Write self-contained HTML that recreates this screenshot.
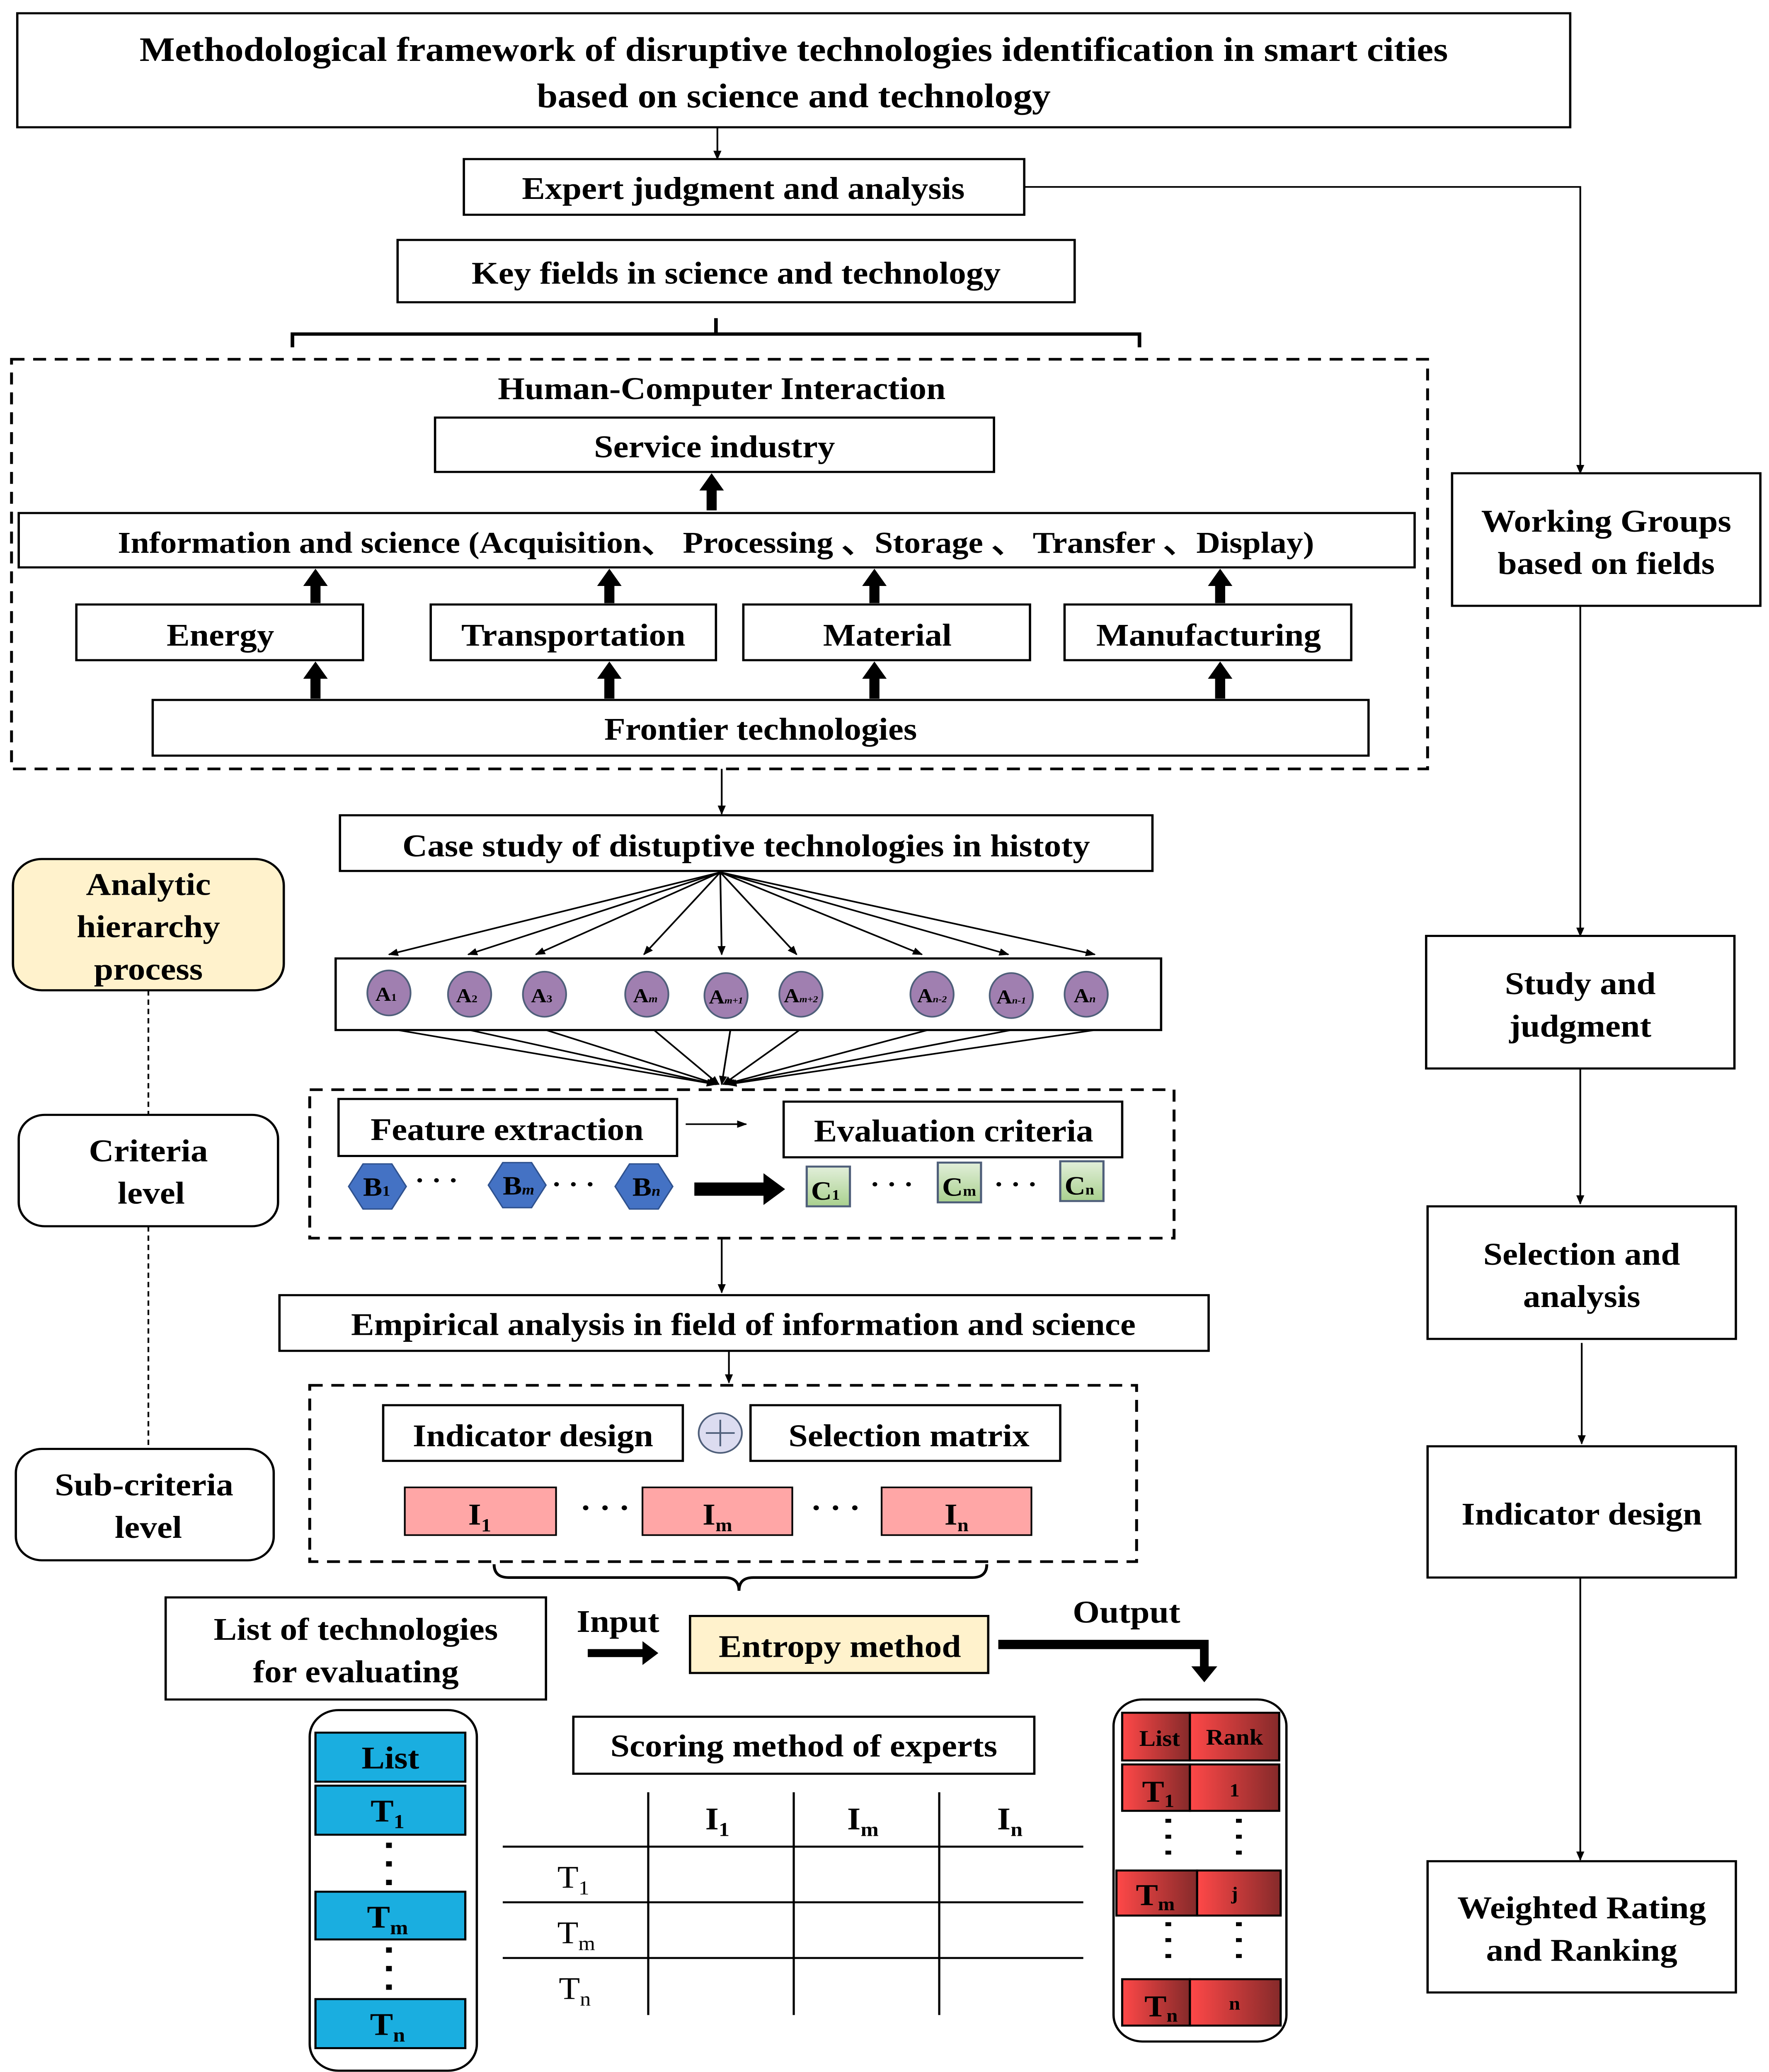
<!DOCTYPE html>
<html><head><meta charset="utf-8"><style>html,body{margin:0;padding:0;background:#fff;width:100%;height:100%;overflow:hidden}svg{display:block;width:100vw;height:100vh}</style></head>
<body>
<svg xmlns="http://www.w3.org/2000/svg" viewBox="0 0 1228 1563" preserveAspectRatio="none" font-family="Liberation Serif, serif" font-weight="bold">
<defs>
<marker id="ah" viewBox="0 0 10 10" refX="9" refY="5" markerWidth="7" markerHeight="7" orient="auto" markerUnits="userSpaceOnUse"><path d="M0,1 L10,5 L0,9 z" fill="#000"/></marker>
<linearGradient id="gc" x1="0" y1="0" x2="0" y2="1"><stop offset="0" stop-color="#e2efda"/><stop offset="1" stop-color="#a9d08e"/></linearGradient>
<linearGradient id="gr" x1="0" y1="0" x2="1" y2="0"><stop offset="0" stop-color="#ff4848"/><stop offset="1" stop-color="#852a2a"/></linearGradient>
</defs>
<rect width="1228" height="1563" fill="#fff"/>
<g fill="none" stroke="#000" stroke-width="1.6">
<rect x="12" y="10" width="1078" height="86"/>
<rect x="322" y="120" width="389" height="42"/>
<rect x="276" y="181" width="470" height="47"/>
<rect x="8" y="271" width="983" height="309" stroke-dasharray="9,6" stroke-width="2"/>
<rect x="302" y="315" width="388" height="41"/>
<rect x="13" y="387" width="969" height="41"/>
<rect x="53" y="456" width="199" height="42"/>
<rect x="299" y="456" width="198" height="42"/>
<rect x="516" y="456" width="199" height="42"/>
<rect x="739" y="456" width="199" height="42"/>
<rect x="106" y="528" width="844" height="42"/>
<rect x="236" y="615" width="564" height="42"/>
<rect x="233" y="723" width="573" height="54"/>
<rect x="215" y="822" width="600" height="112" stroke-dasharray="9,6" stroke-width="2"/>
<rect x="235" y="829" width="235" height="43"/>
<rect x="544" y="831" width="235" height="42"/>
<rect x="194" y="977" width="645" height="42"/>
<rect x="215" y="1045" width="574" height="133" stroke-dasharray="9,6" stroke-width="2"/>
<rect x="266" y="1060" width="208" height="42"/>
<rect x="521" y="1060" width="215" height="42"/>
<rect x="115" y="1205" width="264" height="77"/>
<rect x="398" y="1295" width="320" height="43"/>
<rect x="215" y="1290" width="116" height="272" rx="20"/>
<rect x="773" y="1282" width="120" height="258" rx="20"/>
<rect x="1008" y="357" width="214" height="100"/>
<rect x="990" y="706" width="214" height="100"/>
<rect x="991" y="910" width="214" height="100"/>
<rect x="991" y="1091" width="214" height="99"/>
<rect x="991" y="1404" width="214" height="99"/>
<rect x="13" y="841" width="180" height="84" rx="18"/>
<rect x="11" y="1093" width="179" height="84" rx="18"/>
</g>
<rect x="9" y="648" width="188" height="99" rx="20" fill="#fff2cc" stroke="#000" stroke-width="1.6"/>
<rect x="479" y="1219" width="207" height="43" fill="#fff2cc" stroke="#000" stroke-width="1.6"/>
<g fill="none" stroke="#000" stroke-width="1.2">
<line x1="498" y1="96" x2="498" y2="120" marker-end="url(#ah)"/>
<polyline points="711,141 1097,141 1097,357" marker-end="url(#ah)"/>
<line x1="1097" y1="457" x2="1097" y2="706" marker-end="url(#ah)"/>
<line x1="1097" y1="806" x2="1097" y2="908" marker-end="url(#ah)"/>
<line x1="1098" y1="1013" x2="1098" y2="1089" marker-end="url(#ah)"/>
<line x1="1097" y1="1190" x2="1097" y2="1403" marker-end="url(#ah)"/>
<line x1="501" y1="580" x2="501" y2="614" marker-end="url(#ah)"/>
<line x1="501" y1="934" x2="501" y2="975" marker-end="url(#ah)"/>
<line x1="506" y1="1019" x2="506" y2="1043" marker-end="url(#ah)"/>
<line x1="476" y1="848" x2="518" y2="848" marker-end="url(#ah)"/>
<line x1="500" y1="658" x2="270" y2="720" marker-end="url(#ah)"/>
<line x1="500" y1="658" x2="325" y2="720" marker-end="url(#ah)"/>
<line x1="500" y1="658" x2="372" y2="720" marker-end="url(#ah)"/>
<line x1="500" y1="658" x2="447" y2="720" marker-end="url(#ah)"/>
<line x1="500" y1="658" x2="501" y2="720" marker-end="url(#ah)"/>
<line x1="500" y1="658" x2="553" y2="720" marker-end="url(#ah)"/>
<line x1="500" y1="658" x2="640" y2="720" marker-end="url(#ah)"/>
<line x1="500" y1="658" x2="700" y2="720" marker-end="url(#ah)"/>
<line x1="500" y1="658" x2="760" y2="720" marker-end="url(#ah)"/>
<line x1="276" y1="777" x2="497" y2="818" marker-end="url(#ah)"/>
<line x1="326" y1="777" x2="497" y2="818" marker-end="url(#ah)"/>
<line x1="379" y1="777" x2="498" y2="818" marker-end="url(#ah)"/>
<line x1="454" y1="777" x2="499" y2="818" marker-end="url(#ah)"/>
<line x1="507" y1="777" x2="501" y2="818" marker-end="url(#ah)"/>
<line x1="555" y1="777" x2="502" y2="818" marker-end="url(#ah)"/>
<line x1="644" y1="777" x2="503" y2="818" marker-end="url(#ah)"/>
<line x1="702" y1="777" x2="504" y2="818" marker-end="url(#ah)"/>
<line x1="760" y1="777" x2="505" y2="818" marker-end="url(#ah)"/>
<line x1="103" y1="747" x2="103" y2="841" stroke-dasharray="4,3"/>
<line x1="103" y1="925" x2="103" y2="1093" stroke-dasharray="4,3"/>
</g>
<path d="M203,262 L203,252 L497,252 L497,240 M497,252 L791,252 L791,262" fill="none" stroke="#000" stroke-width="2.5"/>
<path d="M343,1180 Q343,1190 353,1190 L503,1190 Q513,1190 513,1200 Q513,1190 523,1190 L675,1190 Q685,1190 685,1180" fill="none" stroke="#000" stroke-width="2"/>
<g fill="#000">
<path d="M490.5,385 h7 v-15 h5 l-8.5,-13 l-8.5,13 h5 z"/>
<path d="M215.5,455 h7 v-13 h5 l-8.5,-13 l-8.5,13 h5 z"/>
<path d="M419.5,455 h7 v-13 h5 l-8.5,-13 l-8.5,13 h5 z"/>
<path d="M603.5,455 h7 v-13 h5 l-8.5,-13 l-8.5,13 h5 z"/>
<path d="M843.5,455 h7 v-13 h5 l-8.5,-13 l-8.5,13 h5 z"/>
<path d="M215.5,527 h7 v-15 h5 l-8.5,-13 l-8.5,13 h5 z"/>
<path d="M419.5,527 h7 v-15 h5 l-8.5,-13 l-8.5,13 h5 z"/>
<path d="M603.5,527 h7 v-15 h5 l-8.5,-13 l-8.5,13 h5 z"/>
<path d="M843.5,527 h7 v-15 h5 l-8.5,-13 l-8.5,13 h5 z"/>
<path d="M482,892 h48 v-7 l15,12 l-15,12 v-7 h-48 z"/>
<path d="M408,1244 h38 v-6 l11,9 l-11,9 v-6 h-38 z"/>
<path d="M693,1237 h146 v20 h6 l-9,12 l-9,-12 h6 v-13 h-140 z"/>
</g>
<g fill="#a07fb0" stroke="#4f5f7a" stroke-width="1.2">
<ellipse cx="270" cy="749" rx="15" ry="17"/><ellipse cx="326" cy="750" rx="15" ry="17"/><ellipse cx="378" cy="750" rx="15" ry="17"/>
<ellipse cx="449" cy="750" rx="15" ry="17"/><ellipse cx="504" cy="751" rx="15" ry="17"/><ellipse cx="556" cy="750" rx="15" ry="17"/>
<ellipse cx="647" cy="750" rx="15" ry="17"/><ellipse cx="702" cy="751" rx="15" ry="17"/><ellipse cx="754" cy="750" rx="15" ry="17"/>
</g>
<g font-size="15" text-anchor="middle" fill="#000">
<text x="268" y="755">A<tspan font-size="8">1</tspan></text>
<text x="324" y="756">A<tspan font-size="8">2</tspan></text>
<text x="376" y="756">A<tspan font-size="8">3</tspan></text>
<text x="448" y="756">A<tspan font-size="8" font-style="italic">m</tspan></text>
<text x="504" y="757">A<tspan font-size="7" font-style="italic">m+1</tspan></text>
<text x="556" y="756">A<tspan font-size="7" font-style="italic">m+2</tspan></text>
<text x="647" y="756">A<tspan font-size="7" font-style="italic">n-2</tspan></text>
<text x="702" y="757">A<tspan font-size="7" font-style="italic">n-1</tspan></text>
<text x="753" y="756">A<tspan font-size="8" font-style="italic">n</tspan></text>
</g>
<g fill="#4472c4" stroke="#2f528f" stroke-width="1">
<path d="M252,878 h20 l10,17 l-10,17 h-20 l-10,-17 z"/>
<path d="M349,877 h20 l10,17 l-10,17 h-20 l-10,-17 z"/>
<path d="M437,878 h20 l10,17 l-10,17 h-20 l-10,-17 z"/>
</g>
<g font-size="20" fill="#000">
<text x="252" y="902">B<tspan font-size="11">1</tspan></text>
<text x="349" y="901">B<tspan font-size="11" font-style="italic">m</tspan></text>
<text x="439" y="902">B<tspan font-size="11" font-style="italic">n</tspan></text>
<text x="288" y="897">· · ·</text>
<text x="383" y="900">· · ·</text>
<text x="604" y="900">· · ·</text>
<text x="690" y="900">· · ·</text>
</g>
<g fill="url(#gc)" stroke="#4f5f7a" stroke-width="1.5">
<rect x="560" y="880" width="30" height="30"/><rect x="651" y="877" width="30" height="30"/><rect x="736" y="876" width="30" height="30"/>
</g>
<g font-size="20" fill="#000">
<text x="563" y="905">C<tspan font-size="11">1</tspan></text>
<text x="654" y="902">C<tspan font-size="11">m</tspan></text>
<text x="739" y="901">C<tspan font-size="11">n</tspan></text>
</g>
<circle cx="500" cy="1081" r="15" fill="#dcdcf0" stroke="#4f5f7a" stroke-width="1.2"/>
<path d="M490,1081 h20 M500,1071 v20" stroke="#4f5f7a" stroke-width="1.2"/>
<g fill="#ffa6a6" stroke="#000" stroke-width="1.2">
<rect x="281" y="1122" width="105" height="36"/><rect x="446" y="1122" width="104" height="36"/><rect x="612" y="1122" width="104" height="36"/>
</g>
<g font-size="23" fill="#000" text-anchor="middle">
<text x="333" y="1150">I<tspan font-size="14" dy="5">1</tspan></text>
<text x="498" y="1150">I<tspan font-size="14" dy="5">m</tspan></text>
<text x="664" y="1150">I<tspan font-size="14" dy="5">n</tspan></text>
<text x="420" y="1145">· · ·</text>
<text x="580" y="1145">· · ·</text>
</g>
<g fill="#1aaee0" stroke="#000" stroke-width="1.5">
<rect x="219" y="1307" width="104" height="37"/><rect x="219" y="1347" width="104" height="37"/>
<rect x="219" y="1427" width="104" height="36"/><rect x="219" y="1508" width="104" height="37"/>
</g>
<g font-size="24" fill="#000" text-anchor="middle">
<text x="271" y="1334">List</text>
<text x="269" y="1374">T<tspan font-size="15" dy="5">1</tspan></text>
<text x="269" y="1454">T<tspan font-size="15" dy="5">m</tspan></text>
<text x="269" y="1535">T<tspan font-size="15" dy="5">n</tspan></text>
</g>
<g fill="#000"><rect x="268" y="1390" width="4" height="4"/><rect x="268" y="1404" width="4" height="4"/><rect x="268" y="1418" width="4" height="4"/>
<rect x="268" y="1469" width="4" height="4"/><rect x="268" y="1483" width="4" height="4"/><rect x="268" y="1497" width="4" height="4"/></g>
<g stroke="#000" stroke-width="1.5">
<line x1="349" y1="1393" x2="752" y2="1393"/><line x1="349" y1="1435" x2="752" y2="1435"/><line x1="349" y1="1477" x2="752" y2="1477"/>
<line x1="450" y1="1352" x2="450" y2="1520"/><line x1="551" y1="1352" x2="551" y2="1520"/><line x1="652" y1="1352" x2="652" y2="1520"/>
</g>
<g font-size="24" fill="#000" text-anchor="middle">
<text x="498" y="1380">I<tspan font-size="15" dy="5">1</tspan></text>
<text x="599" y="1380">I<tspan font-size="15" dy="5">m</tspan></text>
<text x="701" y="1380">I<tspan font-size="15" dy="5">n</tspan></text>
</g>
<g font-size="24" font-weight="normal" fill="#000" text-anchor="middle">
<text x="398" y="1424">T<tspan font-size="15" dy="5">1</tspan></text>
<text x="400" y="1466">T<tspan font-size="15" dy="5">m</tspan></text>
<text x="399" y="1508">T<tspan font-size="15" dy="5">n</tspan></text>
</g>
<g fill="url(#gr)" stroke="#000" stroke-width="1.5">
<rect x="779" y="1292" width="47" height="36"/><rect x="826" y="1292" width="62" height="36"/>
<rect x="779" y="1331" width="47" height="35"/><rect x="826" y="1331" width="62" height="35"/>
<rect x="775" y="1411" width="56" height="34"/><rect x="831" y="1411" width="58" height="34"/>
<rect x="779" y="1493" width="47" height="35"/><rect x="826" y="1493" width="63" height="35"/>
</g>
<g fill="#000" text-anchor="middle">
<text x="805" y="1317" font-size="17">List</text>
<text x="857" y="1316" font-size="17">Rank</text>
<text x="804" y="1359" font-size="23">T<tspan font-size="14" dy="4">1</tspan></text>
<text x="857" y="1355" font-size="14">1</text>
<text x="802" y="1437" font-size="23">T<tspan font-size="14" dy="4">m</tspan></text>
<text x="857" y="1433" font-size="14">j</text>
<text x="806" y="1521" font-size="23">T<tspan font-size="14" dy="4">n</tspan></text>
<text x="857" y="1516" font-size="14">n</text>
</g>
<g fill="#000"><rect x="809" y="1372" width="4" height="3"/><rect x="809" y="1384" width="4" height="3"/><rect x="809" y="1396" width="4" height="3"/>
<rect x="858" y="1372" width="4" height="3"/><rect x="858" y="1384" width="4" height="3"/><rect x="858" y="1396" width="4" height="3"/>
<rect x="809" y="1450" width="4" height="3"/><rect x="809" y="1462" width="4" height="3"/><rect x="809" y="1474" width="4" height="3"/>
<rect x="858" y="1450" width="4" height="3"/><rect x="858" y="1462" width="4" height="3"/><rect x="858" y="1474" width="4" height="3"/></g>
<g fill="#000" text-anchor="middle" font-size="24">
<text x="551" y="46" font-size="26">Methodological framework of disruptive technologies identification in smart cities</text>
<text x="551" y="81" font-size="26">based on science and technology</text>
<text x="516" y="150">Expert judgment and analysis</text>
<text x="511" y="214">Key fields in science and technology</text>
<text x="501" y="301">Human-Computer Interaction</text>
<text x="496" y="345">Service industry</text>
<text x="497" y="417" font-size="23">Information and science (Acquisition、 Processing 、Storage 、 Transfer 、Display)</text>
<text x="153" y="487">Energy</text>
<text x="398" y="487">Transportation</text>
<text x="616" y="487">Material</text>
<text x="839" y="487">Manufacturing</text>
<text x="528" y="558">Frontier technologies</text>
<text x="518" y="646">Case study of distuptive technologies in histoty</text>
<text x="352" y="860">Feature extraction</text>
<text x="662" y="861">Evaluation criteria</text>
<text x="516" y="1007">Empirical analysis in field of information and science</text>
<text x="370" y="1091">Indicator design</text>
<text x="631" y="1091">Selection matrix</text>
<text x="247" y="1237">List of technologies</text>
<text x="247" y="1269">for evaluating</text>
<text x="429" y="1231">Input</text>
<text x="583" y="1250">Entropy method</text>
<text x="782" y="1224">Output</text>
<text x="558" y="1325">Scoring method of experts</text>
<text x="103" y="675">Analytic</text>
<text x="103" y="707">hierarchy</text>
<text x="103" y="739">process</text>
<text x="103" y="876">Criteria</text>
<text x="105" y="908">level</text>
<text x="100" y="1128">Sub-criteria</text>
<text x="103" y="1160">level</text>
<text x="1115" y="401">Working Groups</text>
<text x="1115" y="433">based on fields</text>
<text x="1097" y="750">Study and</text>
<text x="1097" y="782">judgment</text>
<text x="1098" y="954">Selection and</text>
<text x="1098" y="986">analysis</text>
<text x="1098" y="1150">Indicator design</text>
<text x="1098" y="1447">Weighted Rating</text>
<text x="1098" y="1479">and Ranking</text>
</g>
</svg>
</body></html>
